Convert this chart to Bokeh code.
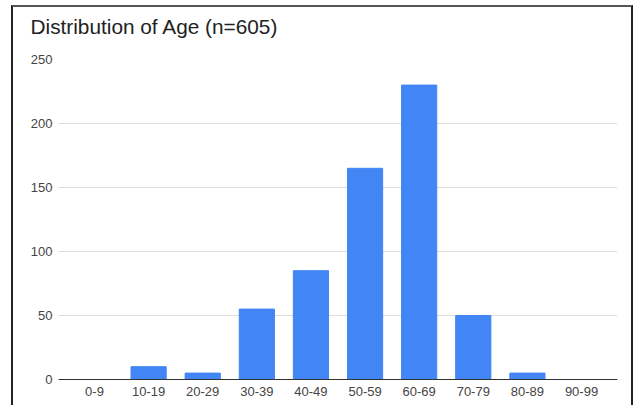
from bokeh.plotting import figure
from bokeh.models import FactorRange, Range1d, FixedTicker, ColumnDataSource, Title
from bokeh.embed import file_html
from bokeh.resources import INLINE

# Data
age_groups = ["0-9", "10-19", "20-29", "30-39", "40-49", "50-59", "60-69", "70-79", "80-89", "90-99"]
counts = [0, 10, 5, 55, 85, 165, 230, 50, 5, 0]
y_ticks = [0, 50, 100, 150, 200, 250]
title_text = "Distribution of Age (n=605)"

FONT = "Liberation Sans"

source = ColumnDataSource(data=dict(x=age_groups, top=counts))

p = figure(
    width=618, height=398,
    x_range=FactorRange(factors=age_groups, range_padding=0.165, range_padding_units="absolute"),
    y_range=Range1d(0, 250),
    output_backend="svg", toolbar_location=None,
    min_border_left=45, min_border_right=18, min_border_top=51, min_border_bottom=28,
)

p.vbar(x="x", top="top", width=0.65, source=source,
       fill_color="#4285F4", line_color="#4285F4", line_width=1)

# spacer between title and plot area
p.add_layout(Title(text=" ", text_font_size="12px", standoff=1), "above")

# Title
p.title.text = title_text
p.title.text_font = FONT
p.title.text_font_size = "20.8px"
p.title.text_font_style = "normal"
p.title.text_color = "#222222"
p.title.align = "left"
p.title.offset = -28

# Axes
p.yaxis.ticker = FixedTicker(ticks=y_ticks)
p.yaxis.axis_line_color = None
p.yaxis.major_tick_line_color = None
p.yaxis.minor_tick_line_color = None
p.yaxis.major_tick_out = 0
p.yaxis.major_tick_in = 0
p.yaxis.minor_tick_out = 0
p.yaxis.major_label_standoff = 6
p.yaxis.major_label_text_font = FONT
p.yaxis.major_label_text_font_size = "13px"
p.yaxis.major_label_text_color = "#444444"

p.xaxis.axis_line_color = "#333333"
p.xaxis.axis_line_width = 1
p.xaxis.major_tick_line_color = None
p.xaxis.minor_tick_line_color = None
p.xaxis.major_tick_out = 0
p.xaxis.major_tick_in = 0
p.xaxis.minor_tick_out = 0
p.xaxis.major_label_standoff = 7
p.xaxis.major_label_text_font = FONT
p.xaxis.major_label_text_font_size = "13px"
p.xaxis.major_label_text_color = "#444444"

# Grid
p.xgrid.grid_line_color = None
p.ygrid.ticker = FixedTicker(ticks=y_ticks)
p.ygrid.grid_line_color = "#dddddd"
p.ygrid.grid_line_width = 1

p.outline_line_color = None
p.background_fill_color = "white"
p.border_fill_color = "white"

# Outer frame of the chart picture (left, top and right edges)
p.styles = {
    "margin-left": "11px",
    "margin-top": "5px",
    "border-left": "2px solid #222222",
    "border-top": "2px solid #555555",
    "border-right": "2px solid #222222",
    "box-sizing": "content-box",
}

open("out.html", "w").write(file_html(p, INLINE))
